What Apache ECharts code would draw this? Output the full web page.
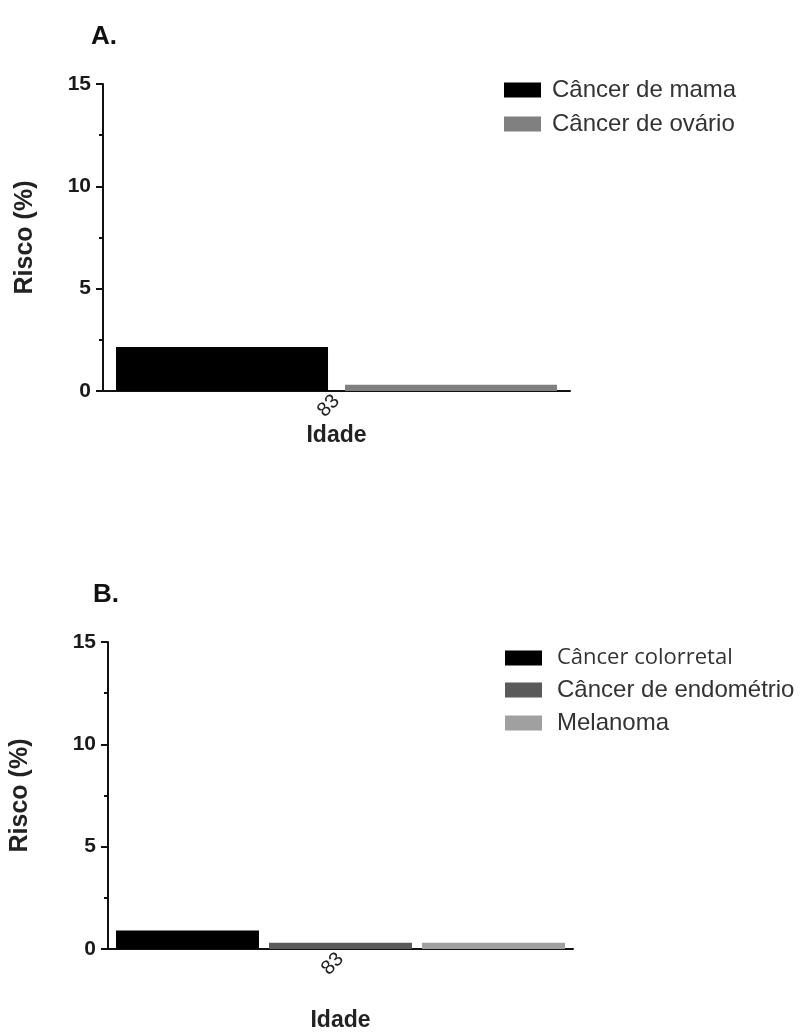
<!DOCTYPE html>
<html>
<head>
<meta charset="utf-8">
<script src="https://cdn.jsdelivr.net/npm/echarts@6/dist/echarts.min.js"></script>
<style>html,body{margin:0;padding:0;background:#fff;}#c{width:807px;height:1035px;}</style>
</head>
<body>
<div id="c"></div>
<script>
var categories = ['83'];
var yTicks = [0, 5, 10, 15];
var namesA = ['Câncer de mama', 'Câncer de ovário'];
var mamaA = [2.15];
var ovarioA = [0.3];
var namesB = ['Câncer colorretal', 'Câncer de endométrio', 'Melanoma'];
var colorretalB = [0.9];
var endometrioB = [0.3];
var melanomaB = [0.3];

var font = 'Liberation Sans, Arial, sans-serif';
var chart = echarts.init(document.getElementById('c'), null, {renderer: 'canvas'});

function xAx(gi, nameGap) {
  return {
    type: 'category', gridIndex: gi, data: categories,
    name: 'Idade', nameLocation: 'middle', nameGap: nameGap,
    nameTextStyle: {fontFamily: font, fontSize: 23, fontWeight: 'bold', color: '#222'},
    axisLine: {lineStyle: {color: '#111', width: 2}},
    axisTick: {alignWithLabel: true, length: 7, lineStyle: {color: '#111', width: 2}},
    axisLabel: {rotate: 45, fontFamily: font, fontSize: 20, color: '#222', margin: 7}
  };
}
function yAx(gi, nameGap) {
  return {
    type: 'value', gridIndex: gi, min: yTicks[0], max: yTicks[yTicks.length - 1], interval: 5,
    name: 'Risco (%)', nameLocation: 'middle', nameGap: nameGap,
    nameTextStyle: {fontFamily: font, fontSize: 25, fontWeight: 'bold', color: '#222'},
    axisLine: {show: true, lineStyle: {color: '#111', width: 2}},
    axisTick: {show: true, length: 7, lineStyle: {color: '#111', width: 2}},
    minorTick: {show: true, splitNumber: 2, length: 4, lineStyle: {color: '#111', width: 2}},
    splitLine: {show: false},
    axisLabel: {fontFamily: font, fontSize: 21, fontWeight: 'bold', color: '#1a1a1a', margin: 12}
  };
}

var option = {
  backgroundColor: '#fff',
  animation: false,
  title: [
    {text: 'A.', left: 86, top: 19, textStyle: {fontFamily: font, fontSize: 26, fontWeight: 'bold', color: '#111'}},
    {text: 'B.', left: 88, top: 577, textStyle: {fontFamily: font, fontSize: 26, fontWeight: 'bold', color: '#111'}}
  ],
  grid: [
    {left: 103, right: 237, top: 84, bottom: 644},
    {left: 108, right: 234, top: 642, bottom: 86}
  ],
  xAxis: [xAx(0, 30), xAx(1, 60)],
  yAxis: [yAx(0, 65), yAx(1, 75)],
  legend: [
    {data: namesA, orient: 'vertical', left: 499, top: 73, itemWidth: 37, itemHeight: 15, itemGap: 10,
     icon: 'rect', textStyle: {fontFamily: font, fontSize: 24, color: '#333', padding: [0, 0, 0, 6]}},
    {data: namesB, orient: 'vertical', left: 500, top: 642, itemWidth: 37, itemHeight: 15, itemGap: 9,
     icon: 'rect',
     formatter: function (n) { return n === namesB[0] ? '{c|' + n + '}' : '{a|' + n + '}'; },
     textStyle: {padding: [0, 0, 0, 10], color: '#333',
       rich: {
         a: {fontFamily: font, fontSize: 24, color: '#333'},
         c: {fontFamily: 'Open Sans, Noto Sans, sans-serif', fontSize: 22, color: '#333'}
       }}}
  ],
  series: [
    {name: namesA[0], type: 'bar', xAxisIndex: 0, yAxisIndex: 0, data: mamaA, barWidth: 212, barGap: '8%',
     itemStyle: {color: '#000'}},
    {name: namesA[1], type: 'bar', xAxisIndex: 0, yAxisIndex: 0, data: ovarioA, barWidth: 212, barGap: '8%',
     itemStyle: {color: '#808080'}},
    {name: namesB[0], type: 'bar', xAxisIndex: 1, yAxisIndex: 1, data: colorretalB, barWidth: 143, barGap: '7%',
     itemStyle: {color: '#000'}},
    {name: namesB[1], type: 'bar', xAxisIndex: 1, yAxisIndex: 1, data: endometrioB, barWidth: 143, barGap: '7%',
     itemStyle: {color: '#5a5a5a'}},
    {name: namesB[2], type: 'bar', xAxisIndex: 1, yAxisIndex: 1, data: melanomaB, barWidth: 143, barGap: '7%',
     itemStyle: {color: '#a0a0a0'}}
  ]
};
chart.setOption(option);
</script>
</body>
</html>
